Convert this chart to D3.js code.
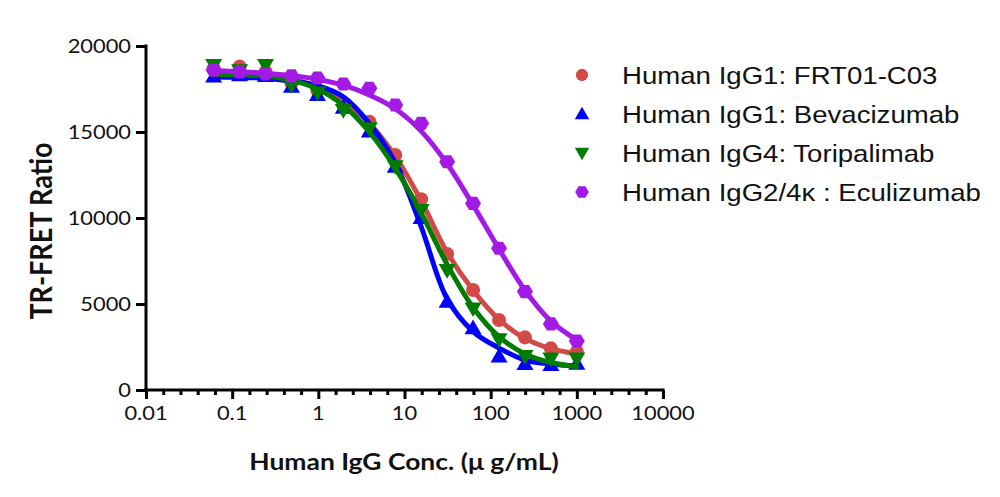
<!DOCTYPE html>
<html>
<head>
<meta charset="utf-8">
<script src="https://cdn.jsdelivr.net/npm/d3@7/dist/d3.min.js"></script>
<style>
  html, body { margin: 0; padding: 0; background: #fff; }
  svg { display: block; }
</style>
</head>
<body>
<svg id="chart" width="1000" height="497"></svg>
<script>
// ---------------- data ----------------
const concentrations = [0.061, 0.122, 0.244, 0.488, 0.977, 1.95, 3.91, 7.81, 15.6, 31.25, 62.5, 125, 250, 500, 1000];

const seriesNames = [
  "Human IgG1: FRT01-C03",
  "Human IgG1: Bevacizumab",
  "Human IgG4: Toripalimab",
  "Human IgG2/4\u03ba : Eculizumab"
];

// measured points
const frt01Values   = [18700, 18800, 18500, 17850, 17400, 16700, 15600, 13660, 11090, 7910, 5810, 4070, 3060, 2420, 2230];
const bevaValues    = [18220, 18300, 18250, 17630, 17150, 16400, 15020, 12980, 10000, 5130, 3590, 1940, 1510, 1450, 1520];
const toriValues    = [18900, 18600, 18900, 17730, 17300, 16280, 15230, 13020, 10470, 6980, 4750, 2950, 1980, 1840, 1840];
const eculiValues   = [18600, 18490, 18370, 18260, 18140, 17790, 17540, 16570, 15500, 13270, 10850, 8240, 5720, 3840, 2850];

// fitted curve read at each concentration
const frt01Fit = [18550, 18480, 18350, 18100, 17600, 16750, 15500, 13600, 11000, 8000, 5800, 4100, 3000, 2400, 2100];
const bevaFit  = [18200, 18180, 18120, 17950, 17700, 17050, 15500, 13200, 9500, 5300, 3400, 2440, 1740, 1510, 1400];
const toriFit  = [18350, 18320, 18250, 18000, 17500, 16550, 15000, 12900, 10300, 7300, 4800, 3100, 2100, 1600, 1350];
const eculiFit = [18560, 18500, 18420, 18280, 18060, 17720, 17150, 16350, 15050, 13150, 10750, 8200, 5800, 4000, 2900];

const xTickValues = [0.01, 0.1, 1, 10, 100, 1000, 10000];
const xTickLabels = ["0.01", "0.1", "1", "10", "100", "1000", "10000"];
const yTickValues = [0, 5000, 10000, 15000, 20000];
const yTickLabels = ["0", "5000", "10000", "15000", "20000"];

const seriesColors = ["#d24a48", "#0000ff", "#007d00", "#a31ae6"];
const seriesMarkers = ["circle", "triangleUp", "triangleDown", "hexagon"];

// ---------------- drawing ----------------
const svg = d3.select("#chart");
const x = d3.scaleLog().domain([0.01, 10000]).range([146, 663]);
const y = d3.scaleLinear().domain([0, 20000]).range([390, 46]);

const SX = 1.15; // horizontal stretch of the original image

const hexagon = {
  draw(ctx, size) {
    const r = Math.sqrt(size / (1.5 * Math.sqrt(3)));
    for (let i = 0; i < 6; i++) {
      const a = Math.PI / 3 * i;
      const px = r * Math.cos(a) * 1.05, py = r * Math.sin(a);
      if (i === 0) ctx.moveTo(px, py); else ctx.lineTo(px, py);
    }
    ctx.closePath();
  }
};
function markerPath(kind, size) {
  if (kind === "circle") return d3.symbol(d3.symbolCircle, size)();
  if (kind === "triangleUp" || kind === "triangleDown") return d3.symbol(d3.symbolTriangle, size)();
  return d3.symbol(hexagon, size)();
}
function markerTransform(kind, px, py) {
  let t = `translate(${px},${py})`;
  if (kind === "triangleDown") t += " rotate(180)";
  if (kind === "triangleUp" || kind === "triangleDown") t += " translate(0,1)";
  return t;
}

// axes
const axisFont = "Lato, 'Open Sans', sans-serif";
const xMinor = [];
for (let k = -2; k < 4; k++) for (let j = 1; j < 5; j++) xMinor.push(Math.pow(10, k + j / 5));

const gxMinor = svg.append("g").attr("transform", "translate(0,390)");
gxMinor.call(d3.axisBottom(x).tickValues(xMinor).tickSize(5).tickFormat(""));
gxMinor.select(".domain").remove();
const gx = svg.append("g").attr("transform", "translate(0,390)");
gx.call(d3.axisBottom(x).tickValues(xTickValues).tickSize(9).tickFormat(""));
gx.select(".domain").attr("d", `M${x(0.01) - 1.5},0H${x(10000) + 1.5}`);
svg.selectAll("g path, g line").attr("stroke", "#000").attr("stroke-width", 3);
gx.selectAll(".lbl").data(xTickValues).enter().append("text")
  .attr("class", "lbl")
  .attr("transform", d => `translate(${x(d)},30) scale(${SX},1)`)
  .attr("text-anchor", "middle")
  .attr("font-family", axisFont).attr("font-size", 19).attr("fill", "#111")
  .text((d, i) => xTickLabels[i]);

const gy = svg.append("g").attr("transform", "translate(146,0)");
gy.call(d3.axisLeft(y).tickValues(yTickValues).tickSize(10).tickFormat(""));
gy.select(".domain").attr("d", `M0,${y(20000) - 1.5}V${y(0) + 1.5}`);
gy.selectAll("path, line").attr("stroke", "#000").attr("stroke-width", 3);
gy.selectAll(".lbl").data(yTickValues).enter().append("text")
  .attr("class", "lbl")
  .attr("transform", d => `translate(-15,${y(d) + 7}) scale(${SX},1)`)
  .attr("text-anchor", "end")
  .attr("font-family", axisFont).attr("font-size", 19).attr("fill", "#111")
  .text((d, i) => yTickLabels[i]);

// titles
svg.append("text")
  .attr("transform", `translate(404,470) scale(${SX},1)`)
  .attr("text-anchor", "middle")
  .attr("font-family", axisFont).attr("font-weight", "bold").attr("font-size", 23).attr("fill", "#111")
  .text("Human IgG Conc. (\u03bc g/mL)");
svg.append("text")
  .attr("transform", `translate(52,231) rotate(-90) scale(1,1.1)`)
  .attr("text-anchor", "middle")
  .attr("font-family", axisFont).attr("font-weight", "bold").attr("font-size", 27).attr("fill", "#111")
  .text("TR-FRET Ratio");

// series
const pointSets = [frt01Values, bevaValues, toriValues, eculiValues];
const fitSets = [frt01Fit, bevaFit, toriFit, eculiFit];
const line = d3.line().x(d => x(d[0])).y(d => y(d[1])).curve(d3.curveCatmullRom.alpha(0.5));

pointSets.forEach((vals, s) => {
  const g = svg.append("g");
  const fit = concentrations.map((c, i) => [c, fitSets[s][i]]);
  g.append("path").attr("d", line(fit)).attr("fill", "none")
    .attr("stroke", seriesColors[s]).attr("stroke-width", 5).attr("stroke-linecap", "round");
  g.selectAll("path.m").data(concentrations.map((c, i) => [c, vals[i]])).enter().append("path")
    .attr("class", "m")
    .attr("d", markerPath(seriesMarkers[s], s === 0 ? 155 : (s === 3 ? 150 : 125)))
    .attr("transform", d => markerTransform(seriesMarkers[s], x(d[0]), y(d[1])))
    .attr("fill", seriesColors[s]);
});

// legend
const legendY = [75, 114, 153, 192];
const lg = svg.append("g");
seriesNames.forEach((name, s) => {
  lg.append("path")
    .attr("d", markerPath(seriesMarkers[s], s === 0 ? 120 : (s === 3 ? 110 : 90)))
    .attr("transform", markerTransform(seriesMarkers[s], 582, legendY[s]))
    .attr("fill", seriesColors[s]);
  lg.append("text")
    .attr("transform", `translate(622,${legendY[s] + 8.5}) scale(${SX},1)`)
    .attr("font-family", "'Liberation Sans', Arial, sans-serif").attr("font-size", 24).attr("fill", "#111")
    .text(name);
});
</script>
</body>
</html>
